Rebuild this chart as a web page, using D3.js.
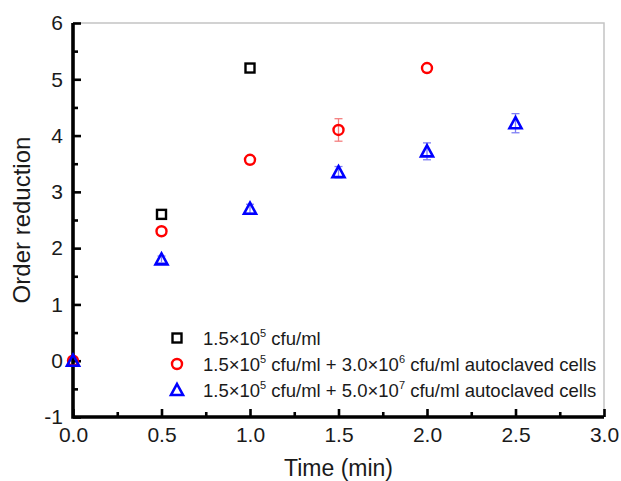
<!DOCTYPE html>
<html>
<head>
<meta charset="utf-8">
<script src="https://cdn.jsdelivr.net/npm/d3@7"></script>
<style>
  html, body { margin: 0; padding: 0; background: #fff; }
  svg { display: block; font-family: Arial, "Liberation Sans", sans-serif; }
</style>
</head>
<body>
<svg id="chart" width="621" height="481"></svg>
<script>
// Time points (min)
const timeSquare = [0.5, 1.0];
const timeCircle = [0.0, 0.5, 1.0, 1.5, 2.0];
const timeTriangle = [0.0, 0.5, 1.0, 1.5, 2.0, 2.5];

// Order reduction values and standard deviations
const reductionSquare = [2.6, 5.2];
const errorSquare = [0, 0];
const reductionCircle = [0.0, 2.3, 3.57, 4.1, 5.2];
const errorCircle = [0, 0, 0, 0.2, 0];
const reductionTriangle = [0.0, 1.8, 2.7, 3.35, 3.72, 4.22];
const errorTriangle = [0, 0.06, 0.08, 0.1, 0.15, 0.17];

const legendLabels = [
  ["1.5×10", "5", " cfu/ml"],
  ["1.5×10", "5", " cfu/ml + 3.0×10", "6", " cfu/ml autoclaved cells"],
  ["1.5×10", "5", " cfu/ml + 5.0×10", "7", " cfu/ml autoclaved cells"]
];

const xTicks = [0.0, 0.5, 1.0, 1.5, 2.0, 2.5, 3.0];
const yTicks = [-1, 0, 1, 2, 3, 4, 5, 6];

const series = [
  { key: "sq", color: "#000000", bar: "#888888", x: timeSquare, y: reductionSquare, e: errorSquare },
  { key: "ci", color: "#ff0000", bar: "#f47f7f", x: timeCircle, y: reductionCircle, e: errorCircle },
  { key: "tr", color: "#0000ff", bar: "#7f7ff4", x: timeTriangle, y: reductionTriangle, e: errorTriangle }
];

const W = 621, H = 481;
const margin = { left: 73, top: 23, right: 17, bottom: 64 };
const FONT = "Arial, 'Liberation Sans', sans-serif";
const svg = d3.select("#chart");

const x = d3.scaleLinear().domain([0, 3]).range([margin.left, W - margin.right]);
const y = d3.scaleLinear().domain([-1, 6]).range([H - margin.bottom, margin.top]);

// Light frame on top and right
svg.append("path")
  .attr("d", `M${x(0)},${y(6)}H${x(3)}V${y(-1)}`)
  .attr("fill", "none").attr("stroke", "#c4c4c4").attr("stroke-width", 1.5);

// Bottom axis: ticks point inward
const xAxis = svg.append("g").attr("transform", `translate(0,${y(-1)})`)
  .call(d3.axisBottom(x).tickValues(xTicks).tickFormat(d3.format(".1f")).tickSize(-8).tickPadding(10));
const xMinor = svg.append("g").attr("transform", `translate(0,${y(-1)})`)
  .call(d3.axisBottom(x).tickValues(d3.range(0.25, 3, 0.5)).tickFormat("").tickSize(-5));

// Left axis: ticks point inward
const yAxis = svg.append("g").attr("transform", `translate(${x(0)},0)`)
  .call(d3.axisLeft(y).tickValues(yTicks).tickFormat(d => String(d)).tickSize(-8).tickPadding(10));
const yMinor = svg.append("g").attr("transform", `translate(${x(0)},0)`)
  .call(d3.axisLeft(y).tickValues(d3.range(-0.5, 6, 1)).tickFormat("").tickSize(-5));

[xAxis, xMinor, yAxis, yMinor].forEach(g => {
  g.attr("font-family", FONT);
  g.select(".domain").remove();
  g.selectAll(".tick line").attr("stroke", "#000").attr("stroke-width", 2.6);
  g.selectAll(".tick text").attr("fill", "#1a1a1a").style("font-size", "21px");
});
// Axis lines drawn explicitly so the corner joins cleanly
svg.append("path")
  .attr("d", `M${x(0)},${y(6)}V${y(-1)}H${x(3)}`)
  .attr("fill", "none").attr("stroke", "#000").attr("stroke-width", 3.6);

// Axis titles
svg.append("text").attr("x", (x(0) + x(3)) / 2).attr("y", 476)
  .attr("text-anchor", "middle").style("font-size", "23px").attr("fill", "#1a1a1a")
  .text("Time (min)");
svg.append("text")
  .attr("transform", `translate(30,${(y(6) + y(-1)) / 2}) rotate(-90)`)
  .attr("text-anchor", "middle").style("font-size", "24px").attr("fill", "#1a1a1a")
  .text("Order reduction");

// Marker drawing
function marker(g, key, color) {
  if (key === "sq") {
    g.append("rect").attr("x", -4.5).attr("y", -4.5).attr("width", 9).attr("height", 9)
      .attr("fill", "none").attr("stroke", color).attr("stroke-width", 2.4);
  } else if (key === "ci") {
    g.append("circle").attr("r", 5).attr("fill", "none").attr("stroke", color).attr("stroke-width", 2.4);
  } else {
    g.append("path").attr("d", "M0,-6L6,5H-6Z")
      .attr("fill", "none").attr("stroke", color).attr("stroke-width", 2.6).attr("stroke-linejoin", "miter");
  }
}

const plot = svg.append("g");
series.forEach(s => {
  const pts = s.x.map((t, i) => ({ t, v: s.y[i], e: s.e[i] }));
  const grp = plot.append("g");
  // error bars
  pts.filter(p => p.e > 0).forEach(p => {
    const eb = grp.append("g").attr("stroke", s.bar).attr("stroke-width", 1.3);
    eb.append("line").attr("x1", x(p.t)).attr("x2", x(p.t)).attr("y1", y(p.v + p.e)).attr("y2", y(p.v - p.e));
    eb.append("line").attr("x1", x(p.t) - 4).attr("x2", x(p.t) + 4).attr("y1", y(p.v + p.e)).attr("y2", y(p.v + p.e));
    eb.append("line").attr("x1", x(p.t) - 4).attr("x2", x(p.t) + 4).attr("y1", y(p.v - p.e)).attr("y2", y(p.v - p.e));
  });
  pts.forEach(p => {
    marker(grp.append("g").attr("transform", `translate(${x(p.t)},${y(p.v)})`), s.key, s.color);
  });
});

// Legend
const legend = svg.append("g");
const legendY = [338, 364, 390];
series.forEach((s, i) => {
  marker(legend.append("g").attr("transform", `translate(177,${legendY[i]})`), s.key, s.color);
  const txt = legend.append("text").attr("x", 203).attr("y", legendY[i] + 7)
    .style("font-size", "18.5px").attr("fill", "#1a1a1a");
  legendLabels[i].forEach((part, j) => {
    if (j % 2 === 1) {
      txt.append("tspan").attr("dy", -8).style("font-size", "11px").text(part);
    } else {
      txt.append("tspan").attr("dy", j === 0 ? 0 : 8).text(part);
    }
  });
});
</script>
</body>
</html>
